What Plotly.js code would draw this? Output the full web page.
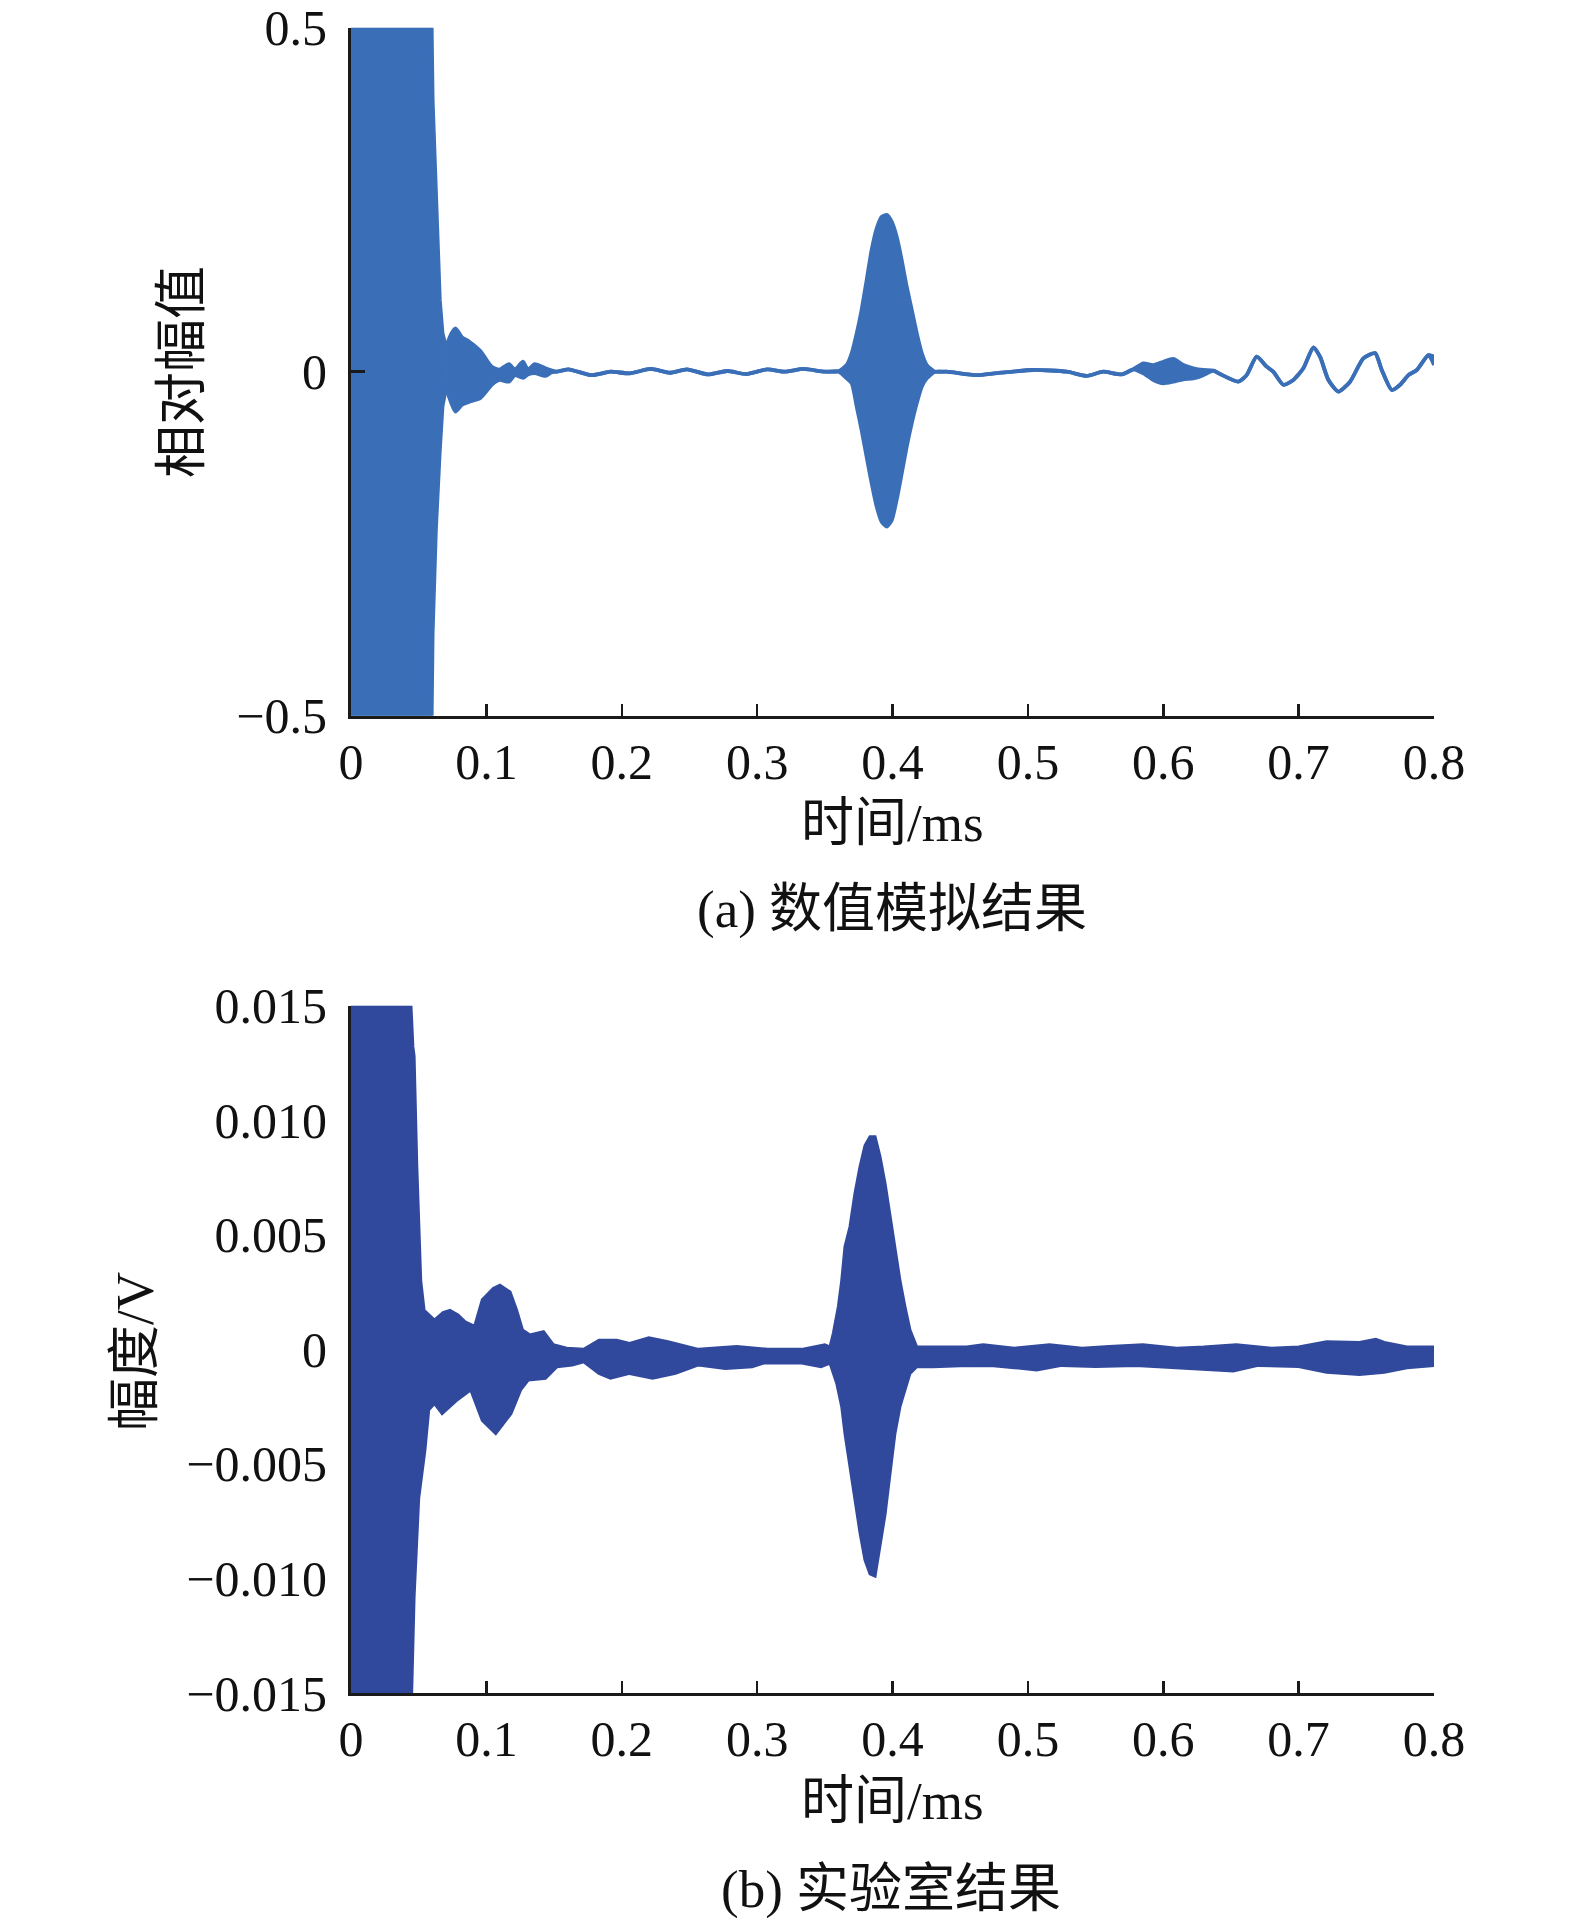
<!DOCTYPE html>
<html>
<head>
<meta charset="utf-8">
<script src="https://cdn.plot.ly/plotly-3.0.1.min.js"></script>
<style>
html,body{margin:0;padding:0;background:#fff;}
#chart{width:1575px;height:1927px;}
</style>
</head>
<body>
<div id="chart"></div>
<script>
// ---------- (a) numerical simulation: envelope of the waveform ----------
const timeA = [0, 0.0596, 0.0603, 0.0627, 0.0656, 0.0676, 0.0702, 0.0740, 0.0772, 0.0820, 0.0871, 0.0956, 0.1040, 0.1097, 0.1167, 0.1210, 0.1270, 0.1307, 0.1357, 0.1436, 0.1480, 0.1520, 0.1606, 0.1775, 0.1917, 0.2058, 0.2214, 0.2355, 0.2482, 0.2637, 0.2779, 0.2920, 0.3076, 0.3203, 0.3344, 0.3500, 0.3600, 0.3662, 0.3699, 0.3736, 0.3772, 0.3809, 0.3846, 0.3883, 0.3920, 0.3957, 0.3994, 0.4031, 0.4068, 0.4105, 0.4142, 0.4179, 0.4216, 0.4253, 0.4314, 0.4400, 0.4622, 0.4770, 0.5040, 0.5287, 0.5434, 0.5557, 0.5693, 0.5779, 0.5853, 0.5927, 0.6000, 0.6074, 0.6148, 0.6222, 0.6296, 0.6370, 0.6420, 0.6554, 0.6616, 0.6690, 0.6764, 0.6813, 0.6887, 0.6961, 0.7035, 0.7109, 0.7158, 0.7220, 0.7294, 0.7380, 0.7478, 0.7565, 0.7614, 0.7688, 0.7750, 0.7811, 0.7873, 0.7959, 0.8000];
const upperA = [0.5, 0.5, 0.395, 0.25, 0.104, 0.056, 0.036, 0.055, 0.063, 0.050, 0.044, 0.030, 0.007, 0.003, 0.011, 0.003, 0.0145, 0.003, 0.011, 0.005, 0.002, 0.0, 0.0035, -0.005, 0.0, -0.0024, 0.004, -0.0015, 0.0035, -0.004, 0.001, -0.0034, 0.0035, 0.0, 0.004, 0.0, 0.0005, 0.0097, 0.027, 0.056, 0.090, 0.133, 0.177, 0.208, 0.225, 0.228, 0.218, 0.196, 0.162, 0.1235, 0.090, 0.056, 0.027, 0.0097, 0.0, 0.0, -0.005, -0.002, 0.0025, 0.0, -0.006, 0.0, -0.004, 0.0035, 0.012, 0.0097, 0.0145, 0.0185, 0.0097, 0.005, 0.0025, 0.0015, -0.0034, -0.0145, -0.005, 0.0218, 0.0073, 0.0, -0.019, -0.012, 0.005, 0.0355, 0.0218, -0.012, -0.029, -0.0145, 0.0194, 0.027, 0.0025, -0.0266, -0.019, -0.005, 0.0025, 0.0242, 0.0218];
const lowerA = [-0.5, -0.5, -0.38, -0.23, -0.114, -0.05, -0.024, -0.045, -0.058, -0.048, -0.044, -0.038, -0.019, -0.012, -0.0145, -0.005, -0.009, -0.004, -0.002, -0.006, -0.001, 0.0, 0.0035, -0.005, 0.0, -0.0024, 0.004, -0.0015, 0.0035, -0.004, 0.001, -0.0034, 0.0035, 0.0, 0.004, 0.0, 0.0005, -0.0097, -0.017, -0.051, -0.085, -0.124, -0.162, -0.196, -0.218, -0.225, -0.216, -0.186, -0.148, -0.109, -0.075, -0.046, -0.022, -0.0097, 0.0, 0.0, -0.005, -0.002, 0.0025, 0.0, -0.006, 0.0, -0.004, 0.0035, -0.0024, -0.012, -0.017, -0.0145, -0.011, -0.0097, -0.005, 0.0015, -0.0034, -0.0145, -0.005, 0.0218, 0.0073, 0.0, -0.019, -0.012, 0.005, 0.0355, 0.0218, -0.012, -0.029, -0.0145, 0.0194, 0.027, 0.0025, -0.0266, -0.019, -0.005, 0.0025, 0.0242, 0.0097];

// ---------- (b) laboratory result: envelope of the waveform ----------
const timeBUpper = [0, 0.0443, 0.0457, 0.0466, 0.0486, 0.0503, 0.0515, 0.0540, 0.0575, 0.0616, 0.0680, 0.0731, 0.0790, 0.0843, 0.0913, 0.0970, 0.1051, 0.1100, 0.1175, 0.1224, 0.1267, 0.1322, 0.1422, 0.1494, 0.1593, 0.1719, 0.1832, 0.1963, 0.2058, 0.2200, 0.2341, 0.2567, 0.2850, 0.3076, 0.3330, 0.3500, 0.3538, 0.3563, 0.3600, 0.3625, 0.3649, 0.3686, 0.3723, 0.3760, 0.3797, 0.3834, 0.3871, 0.3908, 0.3945, 0.3982, 0.4018, 0.4055, 0.4092, 0.4129, 0.4179, 0.4302, 0.4548, 0.4670, 0.4900, 0.5160, 0.5400, 0.5600, 0.5850, 0.6100, 0.6300, 0.6540, 0.6800, 0.7000, 0.7207, 0.7450, 0.7570, 0.7633, 0.7800, 0.8000];
const upperB = [0.015, 0.015, 0.0132, 0.0128, 0.008, 0.0045, 0.003, 0.0017, 0.0015, 0.00128, 0.0016, 0.0017, 0.0015, 0.0012, 0.001, 0.00216, 0.00266, 0.0028, 0.0025, 0.0017, 0.00084, 0.00063, 0.00077, 0.0002, 0.00005, 0.0, 0.0004, 0.0004, 0.00026, 0.0005, 0.00033, 0.0, 0.00012, 0.0, 0.0, 0.0002, 0.0001, 0.0007, 0.00186, 0.003, 0.00448, 0.00535, 0.00681, 0.00797, 0.0089, 0.00928, 0.00928, 0.0084, 0.00724, 0.00579, 0.00434, 0.003, 0.00186, 0.00084, 0.0001, 0.0001, 0.0001, 0.0002, 0.00005, 0.0002, 0.00005, 0.00012, 0.0002, 0.00005, 0.0001, 0.0002, 0.00005, 0.0001, 0.00033, 0.0003, 0.00044, 0.0003, 0.0001, 0.0001];
const timeBLower = [0, 0.0448, 0.0466, 0.0500, 0.0546, 0.0574, 0.0616, 0.0673, 0.0786, 0.0885, 0.0970, 0.1069, 0.1182, 0.1253, 0.1309, 0.1436, 0.1521, 0.1634, 0.1719, 0.1832, 0.1917, 0.2058, 0.2228, 0.2397, 0.2567, 0.2765, 0.2963, 0.3048, 0.3189, 0.3330, 0.3472, 0.3538, 0.3588, 0.3625, 0.3649, 0.3686, 0.3723, 0.3760, 0.3797, 0.3834, 0.3871, 0.3908, 0.3945, 0.3982, 0.4018, 0.4055, 0.4092, 0.4129, 0.4179, 0.4302, 0.4548, 0.4745, 0.4900, 0.5065, 0.5250, 0.5500, 0.5800, 0.6100, 0.6370, 0.6517, 0.6700, 0.7000, 0.7207, 0.7450, 0.7633, 0.7800, 0.8000];
const lowerB = [-0.015, -0.015, -0.0108, -0.0065, -0.0044, -0.00264, -0.00236, -0.0028, -0.0022, -0.00177, -0.0031, -0.00367, -0.0028, -0.00177, -0.00134, -0.00126, -0.00076, -0.00068, -0.00054, -0.00105, -0.00126, -0.00105, -0.00126, -0.00105, -0.00068, -0.00083, -0.00076, -0.0006, -0.0006, -0.0006, -0.00076, -0.0006, -0.00148, -0.0025, -0.00367, -0.0051, -0.0066, -0.008, -0.0092, -0.0098, -0.0099, -0.0086, -0.0072, -0.0054, -0.00367, -0.0025, -0.00177, -0.00105, -0.00076, -0.00076, -0.0007, -0.00072, -0.0008, -0.0009, -0.0007, -0.00075, -0.0007, -0.0008, -0.0009, -0.00095, -0.0007, -0.00075, -0.001, -0.0011, -0.001, -0.0008, -0.0007];

// ---------- ticks and labels ----------
const xTickVals = [0, 0.1, 0.2, 0.3, 0.4, 0.5, 0.6, 0.7, 0.8];
const xTickText = ['0', '0.1', '0.2', '0.3', '0.4', '0.5', '0.6', '0.7', '0.8'];
const yTickValsA = [-0.5, 0, 0.5];
const yTickTextA = ['\u22120.5', '0', '0.5'];
const yTickValsB = [-0.015, -0.010, -0.005, 0, 0.005, 0.010, 0.015];
const yTickTextB = ['\u22120.015', '\u22120.010', '\u22120.005', '0', '0.005', '0.010', '0.015'];
const yTickMarksB = [-0.015, -0.010714, -0.006429, -0.002143, 0.002143, 0.006429, 0.010714, 0.015];

const xTitle = '时间/ms';
const yTitleA = '相对幅值';
const yTitleB = '幅度/V';
const captionA = '(a) 数值模拟结果';
const captionB = '(b) 实验室结果';

const colA = '#3a6fb8';
const colB = '#31499c';
const axCol = '#1a1a1a';
const W = 1575, H = 1927;
const px = v => v / W;
const py = v => 1 - v / H;

const fontNum = {family: '"Liberation Serif", "Times New Roman", serif', size: 50, color: '#111'};
const fontCJK = {family: '"Liberation Serif", "Noto Sans CJK SC", serif', size: 53, color: '#111'};

// the initial clipped block is drawn with straight edges, the rest smoothed
const nBlock = 7;
const lineA = {color: colA, width: 3.8};
const traces = [
  {x: timeA.slice(0, nBlock), y: upperA.slice(0, nBlock), xaxis: 'x', yaxis: 'y', mode: 'lines', line: Object.assign({shape: 'linear'}, lineA), hoverinfo: 'skip', showlegend: false},
  {x: timeA.slice(0, nBlock), y: lowerA.slice(0, nBlock), xaxis: 'x', yaxis: 'y', mode: 'lines', fill: 'tonexty', fillcolor: colA, line: Object.assign({shape: 'linear'}, lineA), hoverinfo: 'skip', showlegend: false},
  {x: timeA.slice(nBlock - 1), y: upperA.slice(nBlock - 1), xaxis: 'x', yaxis: 'y', mode: 'lines', line: Object.assign({shape: 'spline', smoothing: 0.6}, lineA), hoverinfo: 'skip', showlegend: false},
  {x: timeA.slice(nBlock - 1), y: lowerA.slice(nBlock - 1), xaxis: 'x', yaxis: 'y', mode: 'lines', fill: 'tonexty', fillcolor: colA, line: Object.assign({shape: 'spline', smoothing: 0.6}, lineA), hoverinfo: 'skip', showlegend: false},
  {x: timeBUpper, y: upperB, xaxis: 'x2', yaxis: 'y2', mode: 'lines', line: {color: colB, width: 3}, hoverinfo: 'skip', showlegend: false},
  {x: timeBLower, y: lowerB, xaxis: 'x2', yaxis: 'y2', mode: 'lines', fill: 'tonexty', fillcolor: colB, line: {color: colB, width: 3}, hoverinfo: 'skip', showlegend: false}
];

const xDom = [px(351), px(1434)];
const baseX = {
  domain: xDom, range: [0, 0.8], showline: true, linecolor: axCol, linewidth: 3,
  ticks: 'inside', ticklen: 12, tickwidth: 2.5, tickcolor: axCol,
  tickmode: 'array', tickvals: xTickVals, ticktext: xTickText, tickfont: fontNum,
  showgrid: false, zeroline: false, fixedrange: true, ticklabelstandoff: 0
};

const layout = {
  width: W, height: H,
  margin: {l: 0, r: 0, t: 0, b: 0},
  paper_bgcolor: '#fff', plot_bgcolor: 'rgba(0,0,0,0)',
  showlegend: false,
  xaxis: Object.assign({}, baseX, {anchor: 'y'}),
  yaxis: {
    domain: [py(715.7), py(27.7)], range: [-0.5, 0.5], anchor: 'x',
    showline: true, linecolor: axCol, linewidth: 3,
    ticks: 'inside', ticklen: 14, tickwidth: 2.5, tickcolor: axCol,
    tickmode: 'array', tickvals: yTickValsA, ticktext: yTickTextA, tickfont: fontNum,
    showgrid: false, zeroline: false, fixedrange: true, ticklabelstandoff: 11
  },
  xaxis2: Object.assign({}, baseX, {anchor: 'y2'}),
  yaxis2: {
    domain: [py(1693), py(1005.7)], range: [-0.015, 0.015], anchor: 'x2',
    showline: true, linecolor: axCol, linewidth: 3,
    ticks: '', tickmode: 'array', tickvals: yTickValsB, ticktext: yTickTextB, tickfont: fontNum,
    showgrid: false, zeroline: false, fixedrange: true, ticklabelstandoff: 11
  },
  yaxis3: {
    overlaying: 'y2', anchor: 'x2', side: 'left', range: [-0.015, 0.015],
    showline: false, ticks: 'inside', ticklen: 13, tickwidth: 2.5, tickcolor: axCol,
    tickmode: 'array', tickvals: yTickMarksB, showticklabels: false,
    showgrid: false, zeroline: false, fixedrange: true
  },
  annotations: [
    {text: xTitle, xref: 'paper', yref: 'paper', x: px(892), y: py(823), xanchor: 'center', yanchor: 'middle', showarrow: false, font: fontCJK},
    {text: captionA, xref: 'paper', yref: 'paper', x: px(892), y: py(909), xanchor: 'center', yanchor: 'middle', showarrow: false, font: fontCJK},
    {text: yTitleA, xref: 'paper', yref: 'paper', x: px(182), y: py(372), xanchor: 'center', yanchor: 'middle', textangle: -90, showarrow: false, font: fontCJK},
    {text: xTitle, xref: 'paper', yref: 'paper', x: px(892), y: py(1801), xanchor: 'center', yanchor: 'middle', showarrow: false, font: fontCJK},
    {text: captionB, xref: 'paper', yref: 'paper', x: px(891), y: py(1889), xanchor: 'center', yanchor: 'middle', showarrow: false, font: fontCJK},
    {text: yTitleB, xref: 'paper', yref: 'paper', x: px(135), y: py(1352), xanchor: 'center', yanchor: 'middle', textangle: -90, showarrow: false, font: fontCJK}
  ]
};

Plotly.newPlot('chart', traces, layout, {staticPlot: true, displayModeBar: false});
</script>
</body>
</html>
